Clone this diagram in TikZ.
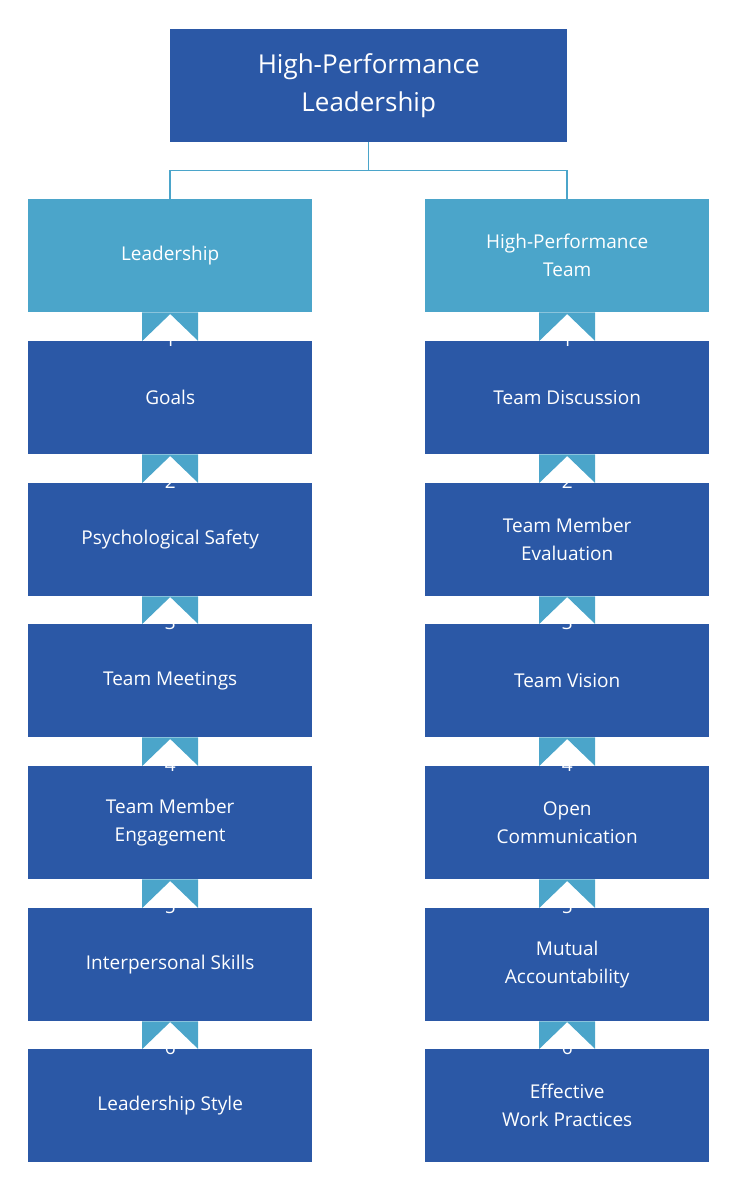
\documentclass[tikz,border=0pt]{standalone}
\usepackage{fontspec}
\setmainfont{Open Sans}
\definecolor{dark}{HTML}{2B58A6}
\definecolor{light}{HTML}{4BA5CA}
\begin{document}
\begin{tikzpicture}[x=1pt,y=-1pt,
  box/.style={fill=dark,draw=none,text=white,align=center,minimum width=284pt,minimum height=113pt,inner sep=0pt,anchor=north west,font=\fontsize{19}{28}\selectfont},
  hbox/.style={box,fill=light},
  tab/.style={fill=light},
  num/.style={text=white,font=\fontsize{19}{22}\selectfont},
  conn/.style={draw=light,line width=1.5pt}]
\useasboundingbox (0,0) rectangle (737,1191);
\node[box,minimum width=397pt,font=\fontsize{26}{38}\selectfont] (top) at (170,29) {High-Performance\\Leadership};
\node[hbox] (L0) at (28,199) {Leadership};
\node[hbox] (R0) at (425,199) {High-Performance\\Team};
\draw[conn] (top.south) -- ++(0,28) -| (L0.north);
\draw[conn] (top.south) -- ++(0,28) -| (R0.north);
\foreach \i/\y/\txt in {1/341/Goals,2/483/Psychological Safety,3/624/Team Meetings,4/766/{Team Member\\Engagement},5/908/Interpersonal Skills,6/1049/Leadership Style}{
  \node[box] (L\i) at (28,\y) {\txt};
}
\foreach \i/\y/\txt in {1/341/Team Discussion,2/483/{Team Member\\Evaluation},3/624/Team Vision,4/766/{Open\\Communication},5/908/{Mutual\\Accountability},6/1049/{Effective\\Work Practices}}{
  \node[box] (R\i) at (425,\y) {\txt};
}
\foreach \s in {L,R}{
  \foreach \i [evaluate=\i as \j using int(\i-1)] in {1,...,6}{
    \fill[tab] ([xshift=-28pt]\s\j.south) -- ([xshift=28pt]\s\j.south) -- ([xshift=28pt]\s\i.north) -- ([yshift=27pt]\s\i.north) -- ([xshift=-28pt]\s\i.north) -- cycle;
    \node[num] (n\s\i) at ([yshift=1pt]\s\i.north) {\i};
  }
}
\end{tikzpicture}
\end{document}
